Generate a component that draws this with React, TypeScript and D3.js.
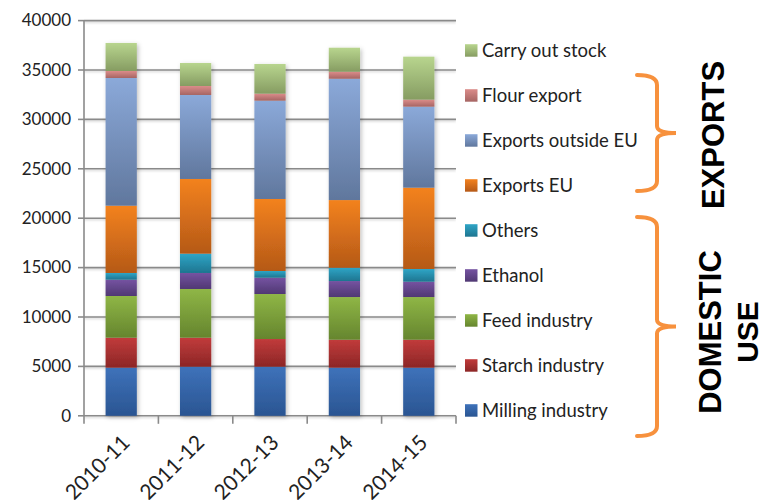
import React from 'react';
import * as d3 from 'd3';

const years = ['2010-11', '2011-12', '2012-13', '2013-14', '2014-15'];

const seriesNames = [
  'Milling industry',
  'Starch industry',
  'Feed industry',
  'Ethanol',
  'Others',
  'Exports EU',
  'Exports outside EU',
  'Flour export',
  'Carry out stock',
];

const milling = [4870, 4970, 4970, 4870, 4870];
const starch = [3035, 2935, 2800, 2830, 2830];
const feed = [4220, 4930, 4555, 4320, 4320];
const ethanol = [1650, 1620, 1650, 1620, 1550];
const others = [680, 1955, 680, 1345, 1290];
const exportsEU = [6810, 7560, 7290, 6850, 8230];
const exportsOutside = [12925, 8500, 9950, 12280, 8200];
const flourExport = [710, 910, 710, 710, 710];
const carryOut = [2835, 2330, 3005, 2430, 4350];

const yTicks = [0, 5000, 10000, 15000, 20000, 25000, 30000, 35000, 40000];

// [top colour, bottom colour] for the Excel-style gradients
const colors: [string, string][] = [
  ['#3E72BA', '#2A5592'],
  ['#C13B3B', '#8C2626'],
  ['#8FB646', '#65852E'],
  ['#7553A1', '#503873'],
  ['#2FA5C6', '#1E7590'],
  ['#F3821F', '#B55917'],
  ['#8BA9D9', '#60779D'],
  ['#DB8C8A', '#A66563'],
  ['#B8D58E', '#869C62'],
];

const W = 760;
const H = 500;
const margin = { top: 20.6, left: 84, right: 304, bottom: 84.2 };
const innerW = W - margin.left - margin.right;
const innerH = H - margin.top - margin.bottom;

const orange = '#F7913D';

function bracePath(xs: number, xv: number, xt: number, y0: number, y1: number) {
  const ym = (y0 + y1) / 2;
  return `M${xs},${y0} Q${xv},${y0} ${xv},${y0 + 10} L${xv},${ym - 7} Q${xv},${ym} ${xt},${ym}` +
    ` Q${xv},${ym} ${xv},${ym + 7} L${xv},${y1 - 10} Q${xv},${y1} ${xs},${y1}`;
}

export default function App() {
  const seriesData = [milling, starch, feed, ethanol, others, exportsEU, exportsOutside, flourExport, carryOut];
  const rows = years.map((y, i) => {
    const r: any = { year: y };
    seriesNames.forEach((n, k) => (r[n] = seriesData[k][i]));
    return r;
  });
  const stacked = d3.stack<any>().keys(seriesNames)(rows);

  const x = d3.scaleBand().domain(years).range([0, innerW]).paddingInner(0.58).paddingOuter(0.29);
  const y = d3.scaleLinear().domain([0, 40000]).range([innerH, 0]);
  const step = x.step();

  const font = 'Lato, "Open Sans", sans-serif';
  const bold = '"Liberation Sans", Arial, sans-serif';

  return (
    <svg width={W} height={H} style={{ position: 'absolute', left: 0, top: 0, background: '#fff' }}>
      <defs>
        {colors.map((c, i) => (
          <linearGradient key={i} id={`g${i}`} x1="0" y1="0" x2="0" y2="1">
            <stop offset="0" stopColor={c[0]} />
            <stop offset="1" stopColor={c[1]} />
          </linearGradient>
        ))}
        <filter id="shadow" x="-20%" y="-5%" width="140%" height="110%">
          <feDropShadow dx="1.5" dy="1.5" stdDeviation="2" floodColor="#000" floodOpacity="0.25" />
        </filter>
        <filter id="lineShadow" x="0" y="-100%" width="100%" height="300%">
          <feDropShadow dx="0" dy="1.2" stdDeviation="0.8" floodColor="#000" floodOpacity="0.2" />
        </filter>
      </defs>
      <g transform={`translate(${margin.left},${margin.top})`}>
        {/* gridlines */}
        <g filter="url(#lineShadow)">
          {yTicks.map((t) => (
            <line key={t} x1={0} x2={innerW} y1={y(t)} y2={y(t)} stroke="#8a8a8a" strokeWidth={1.6} />
          ))}
        </g>
        {/* y axis */}
        <line x1={0} x2={0} y1={0} y2={innerH} stroke="#8a8a8a" strokeWidth={1.6} />
        {yTicks.map((t) => (
          <g key={t} transform={`translate(0,${y(t)})`}>
            <line x1={-6} x2={0} stroke="#8a8a8a" strokeWidth={1.6} />
            <text x={-13} dy="0.34em" textAnchor="end" fontFamily={font} fontSize={17} fill="#222">
              {t}
            </text>
          </g>
        ))}
        {/* x axis ticks */}
        {d3.range(years.length + 1).map((i) => (
          <line key={i} x1={i * step} x2={i * step} y1={innerH} y2={innerH + 8} stroke="#8a8a8a" strokeWidth={1.6} />
        ))}
        {/* bars */}
        <g filter="url(#shadow)">
          {stacked.map((s, k) =>
            s.map((d, i) => (
              <rect
                key={`${k}-${i}`}
                x={x(years[i])}
                y={y(d[1])}
                width={x.bandwidth()}
                height={y(d[0]) - y(d[1])}
                fill={`url(#g${k})`}
              />
            ))
          )}
        </g>
        {/* x labels */}
        {years.map((yr) => (
          <text
            key={yr}
            transform={`translate(${(x(yr) || 0) + x.bandwidth() / 2 + 10},${innerH + 28}) rotate(-45)`}
            textAnchor="end"
            fontFamily={font}
            fontSize={21}
            fill="#222"
          >
            {yr}
          </text>
        ))}
      </g>
      {/* legend */}
      {seriesNames
        .slice()
        .reverse()
        .map((n, i) => {
          const k = seriesNames.length - 1 - i;
          const cy = 50.7 + i * 45;
          return (
            <g key={n} transform={`translate(465,${cy})`}>
              <rect x={0} y={-6.5} width={12.5} height={12.5} fill={`url(#g${k})`} />
              <text x={17} dy="0.35em" fontFamily={font} fontSize={18.5} fill="#222">
                {n}
              </text>
            </g>
          );
        })}
      {/* braces */}
      <path d={bracePath(637, 657, 676, 75, 191)} fill="none" stroke={orange} strokeWidth={4} strokeLinecap="round" />
      <path d={bracePath(637, 657, 676, 217, 436)} fill="none" stroke={orange} strokeWidth={4} strokeLinecap="round" />
      <text transform="translate(724,135) rotate(-90)" textAnchor="middle" fontFamily={bold} fontWeight="bold" fontSize={31} fill="#000">
        EXPORTS
      </text>
      <text transform="translate(721,332) rotate(-90)" textAnchor="middle" fontFamily={bold} fontWeight="bold" fontSize={31} fill="#000">
        DOMESTIC
      </text>
      <text transform="translate(758,332) rotate(-90)" textAnchor="middle" fontFamily={bold} fontWeight="bold" fontSize={30} fill="#000">
        USE
      </text>
    </svg>
  );
}
